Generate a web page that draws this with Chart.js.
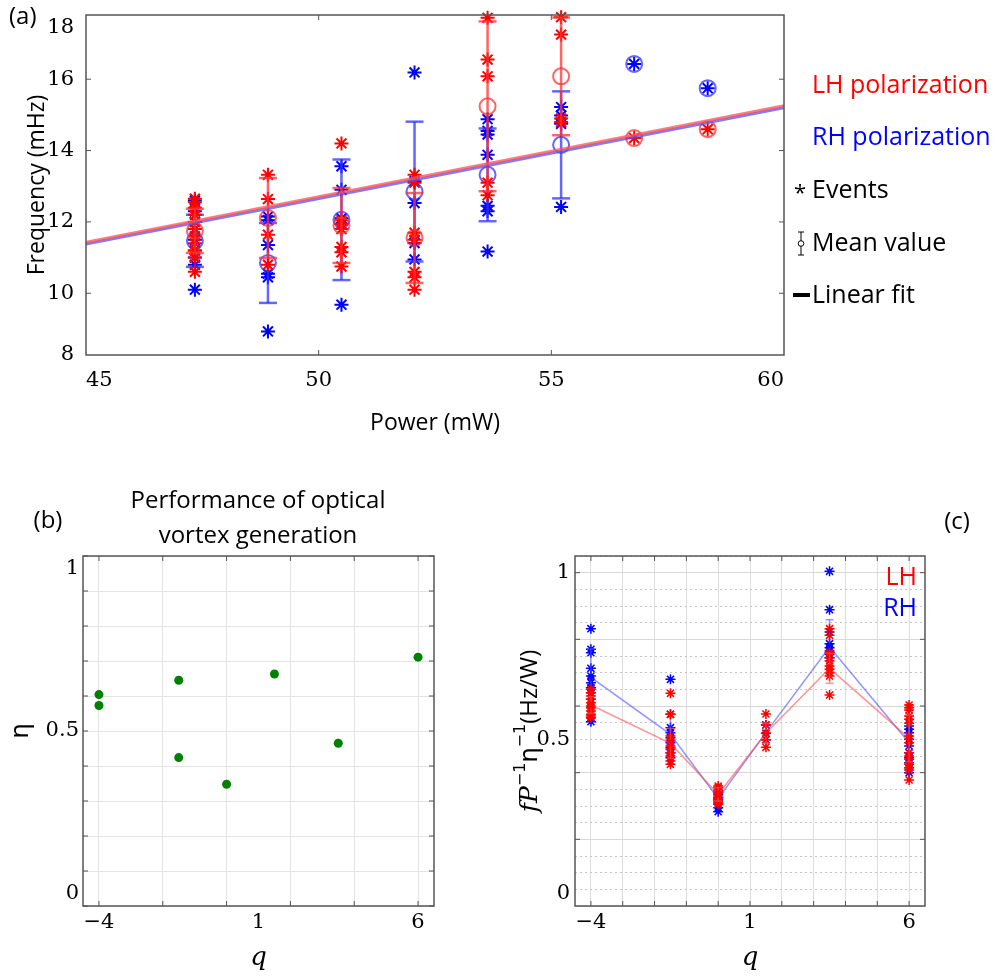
<!DOCTYPE html>
<html>
<head>
<meta charset="utf-8">
<script src="https://cdn.jsdelivr.net/npm/chart.js@4.4.0/dist/chart.umd.min.js"></script>
<style>
  body { margin: 0; background: #fff; }
  #wrap { position: relative; width: 1000px; height: 980px; }
  canvas { position: absolute; }
</style>
</head>
<body>
<div id="wrap">
  <canvas id="chartA" width="1000" height="440" style="left:0;top:0"></canvas>
  <canvas id="chartB" width="480" height="540" style="left:0;top:440px"></canvas>
  <canvas id="chartC" width="520" height="540" style="left:480px;top:440px"></canvas>
</div>
<script>
/***************************** (a) frequency vs power *****************************/
const aPower = [47.34, 48.91, 50.49, 52.06, 53.63, 55.21, 56.78, 58.36];
const aLhEvents = [
  [12.65, 12.55, 12.4, 12.2, 12.0, 11.8, 11.6, 11.4, 11.2, 11.0, 10.6],
  [13.32, 12.64, 11.64, 10.8],
  [14.2, 12.05, 11.95, 11.8, 11.3, 11.15, 10.75],
  [13.32, 13.1, 11.7, 11.5, 10.6, 10.45, 10.1],
  [17.72, 16.55, 16.08, 13.1, 12.75],
  [17.74, 17.25, 14.9, 14.8],
  [14.35],
  [14.6]
];
const aLhMean = [11.75, 12.11, 11.9, 11.55, 15.24, 16.08, 14.35, 14.6];
const aLhErr  = [0.62, 1.12, 1.05, 1.26, 2.38, 1.65, 0, 0];
const aRhEvents = [
  [12.6, 12.3, 12.0, 11.8, 11.5, 11.2, 11.0, 10.8, 10.1],
  [12.15, 12.05, 11.35, 10.55, 10.45, 8.93],
  [13.56, 12.9, 12.1, 9.68],
  [16.19, 13.14, 12.53, 11.41, 10.95],
  [14.88, 14.55, 14.45, 13.88, 12.45, 12.3, 11.17],
  [15.22, 14.98, 14.75, 12.42],
  [16.43],
  [15.75]
];
const aRhMean = [11.47, 10.85, 12.06, 12.85, 13.32, 14.16, 16.43, 15.75];
const aRhErr  = [0.73, 1.12, 1.69, 1.96, 1.3, 1.5, 0, 0];
const aFitPower = [45, 60];
const aLhFit = [11.43, 15.26];
const aRhFit = [11.38, 15.2];
const aXTicks = [45, 50, 55, 60];
const aYTicks = [8, 10, 12, 14, 16, 18];
const aYRange = [8.27, 17.8];

/***************************** (b) efficiency *****************************/
const bQ   = [-4, -4, -1.5, -1.5, 0, 1.5, 3.5, 6];
const bEta = [0.604, 0.573, 0.645, 0.424, 0.348, 0.663, 0.465, 0.711];
const bXTicks = [-4, -2, 0, 1, 2, 4, 6];
const bYTicks = [0, 0.1, 0.2, 0.3, 0.4, 0.5, 0.6, 0.7, 0.8, 0.9, 1];

/***************************** (c) normalised frequency *****************************/
const cQ = [-4, -1.5, 0, 1.5, 3.5, 6];
const cLhEvents = [
  [0.65, 0.64, 0.63, 0.62, 0.61, 0.6, 0.595, 0.585, 0.575, 0.57, 0.565],
  [0.638, 0.575, 0.51, 0.495, 0.48, 0.47, 0.46, 0.45, 0.435, 0.425],
  [0.36, 0.355, 0.348, 0.34, 0.33, 0.325, 0.318, 0.31, 0.305],
  [0.576, 0.543, 0.518, 0.499, 0.476],
  [0.832, 0.812, 0.76, 0.745, 0.735, 0.72, 0.71, 0.7, 0.69, 0.633],
  [0.603, 0.595, 0.588, 0.57, 0.56, 0.548, 0.51, 0.49, 0.46, 0.45, 0.44, 0.425, 0.415, 0.408, 0.378]
];
const cLhMean = [0.603, 0.488, 0.335, 0.518, 0.713, 0.503];
const cLhErr  = [0.025, 0.045, 0.02, 0.03, 0.045, 0.07];
const cRhEvents = [
  [0.832, 0.77, 0.76, 0.713, 0.69, 0.67, 0.655, 0.64, 0.62, 0.565, 0.553],
  [0.68, 0.575, 0.535, 0.52, 0.505, 0.49, 0.475, 0.46, 0.445],
  [0.345, 0.335, 0.325, 0.32, 0.315, 0.305, 0.295, 0.283],
  [0.543, 0.518, 0.499],
  [1.004, 0.889, 0.822, 0.787, 0.775, 0.765, 0.755, 0.745],
  [0.54, 0.53, 0.52, 0.5, 0.48, 0.46, 0.445, 0.43, 0.415, 0.4]
];
const cRhMean = [0.686, 0.515, 0.322, 0.52, 0.777, 0.49];
const cRhErr  = [0.085, 0.06, 0.02, 0.03, 0.082, 0.05];
const cXTicks = [-4, -3, -2, -1, 0, 1, 2, 3, 4, 5, 6];
const cYTicks = [0, 0.05, 0.1, 0.15, 0.2, 0.25, 0.3, 0.35, 0.4, 0.45, 0.5,
                 0.55, 0.6, 0.65, 0.7, 0.75, 0.8, 0.85, 0.9, 0.95, 1, 1.05];

/***************************** helpers *****************************/
const RED = 'rgb(255,0,0)', BLUE = 'rgb(0,0,255)';
const SERIF = '"DejaVu Serif"', SANS = '"Open Sans"';
const minus = v => String(v).replace('-', '\u2212');
const pts = (xs, ys) => xs.map((x, i) => ({x: x, y: ys[i]}));
const flat = (xs, lists) => xs.flatMap((x, i) => lists[i].map(y => ({x: x, y: y})));
const errSegs = (xs, m, e) => xs.flatMap((x, i) => e[i] ? [{x: x, y: m[i] - e[i]}, {x: x, y: m[i] + e[i]}, {x: x, y: null}] : []);
const errCaps = (xs, m, e) => xs.flatMap((x, i) => e[i] ? [{x: x, y: m[i] - e[i]}, {x: x, y: m[i] + e[i]}] : []);

// fixed axis box size, no label overhang padding -> plot area stays where we want it
const fixSize = (w, h) => s => {
  if (w !== null) s.width = w;
  if (h !== null) s.height = h;
  s.paddingTop = 0; s.paddingBottom = 0; s.paddingLeft = 0; s.paddingRight = 0;
};

// frame around the plot area with small inward ticks
const framePlugin = (xt, yt) => ({
  id: 'frame',
  afterDraw(chart) {
    const {ctx, chartArea: a, scales} = chart;
    ctx.save();
    ctx.strokeStyle = '#555';
    ctx.lineWidth = 1.5;
    ctx.strokeRect(a.left, a.top, a.right - a.left, a.bottom - a.top);
    ctx.lineWidth = 1;
    ctx.beginPath();
    xt.forEach(v => {
      const p = scales.x.getPixelForValue(v);
      ctx.moveTo(p, a.bottom); ctx.lineTo(p, a.bottom - 5);
      ctx.moveTo(p, a.top); ctx.lineTo(p, a.top + 5);
    });
    yt.forEach(v => {
      const p = scales.y.getPixelForValue(v);
      ctx.moveTo(a.left, p); ctx.lineTo(a.left + 5, p);
      ctx.moveTo(a.right, p); ctx.lineTo(a.right - 5, p);
    });
    ctx.stroke();
    ctx.restore();
  }
});

// free texts (labels, titles, legend); runs allow mixed fonts / superscripts
const textPlugin = items => ({
  id: 'texts',
  afterDraw(chart) {
    const ctx = chart.ctx;
    items.forEach(t => {
      const runs = t.runs || [{text: t.text, font: t.font}];
      ctx.save();
      ctx.translate(t.x, t.y);
      if (t.rotate) ctx.rotate(t.rotate);
      ctx.fillStyle = t.color || '#000';
      ctx.textBaseline = 'middle';
      const w = runs.map(r => { ctx.font = r.font; return ctx.measureText(r.text).width; });
      const total = w.reduce((s, v) => s + v, 0);
      let x = t.align === 'center' ? -total / 2 : t.align === 'right' ? -total : 0;
      runs.forEach((r, i) => { ctx.font = r.font; ctx.fillText(r.text, x, r.dy || 0); x += w[i]; });
      ctx.restore();
    });
  }
});

// legend symbols of panel (a)
const aLegendMarks = {
  id: 'aLegendMarks',
  afterDraw(chart) {
    const ctx = chart.ctx;
    ctx.save();
    ctx.strokeStyle = '#000';
    ctx.lineWidth = 1;
    ctx.beginPath();
    ctx.moveTo(801, 232); ctx.lineTo(801, 255);
    ctx.moveTo(798, 232); ctx.lineTo(804, 232);
    ctx.moveTo(798, 255); ctx.lineTo(804, 255);
    ctx.stroke();
    ctx.fillStyle = '#fff';
    ctx.beginPath(); ctx.arc(801, 243.5, 2.8, 0, 2 * Math.PI); ctx.fill(); ctx.stroke();
    ctx.fillStyle = '#000';
    ctx.fillRect(793, 293, 17, 4);
    ctx.restore();
  }
};

const baseOptions = (padding) => ({
  responsive: false,
  animation: false,
  events: [],
  layout: {padding: padding, autoPadding: false},
  plugins: {legend: {display: false}, tooltip: {enabled: false}}
});

const tickFont = {family: SERIF, size: 21};

/***************************** chart (a) *****************************/
const optsA = baseOptions({left: 0, top: 15, right: 216, bottom: 0});
optsA.scales = {
  x: {
    type: 'linear', min: 45, max: 60,
    afterBuildTicks: s => { s.ticks = aXTicks.map(v => ({value: v})); },
    afterFit: fixSize(null, 85),
    grid: {display: false}, border: {display: false},
    ticks: {align: 'inner', padding: 5, color: '#000', font: tickFont, autoSkip: false, maxRotation: 0},
    title: {display: true, text: 'Power (mW)', color: '#000', font: {family: SANS, size: 23}, padding: {top: 0, bottom: 3}}
  },
  y: {
    type: 'linear', min: aYRange[0], max: aYRange[1],
    afterBuildTicks: s => {
      s.ticks = aYTicks.map(v => ({value: Math.min(Math.max(v, aYRange[0]), aYRange[1])}));
    },
    afterFit: fixSize(86, null),
    grid: {display: false}, border: {display: false},
    ticks: {
      padding: 4, color: '#000', font: tickFont, autoSkip: false,
      callback: (v, i) => i === aYTicks.length - 1 ? ['', String(aYTicks[i])] : String(aYTicks[i])
    },
    title: {display: true, text: 'Frequency (mHz)', color: '#000', font: {family: SANS, size: 23}, padding: {top: 24, bottom: 0}}
  }
};

new Chart(document.getElementById('chartA'), {
  type: 'scatter',
  data: {
    datasets: [
      {data: pts(aFitPower, aLhFit), showLine: true, borderColor: 'rgba(255,80,80,0.75)', borderWidth: 3, pointRadius: 0},
      {data: pts(aFitPower, aRhFit), showLine: true, borderColor: 'rgba(80,80,255,0.75)', borderWidth: 3, pointRadius: 0},
      {data: pts(aPower, aLhMean), pointStyle: 'circle', pointRadius: 8, pointBorderWidth: 2,
       pointBorderColor: 'rgba(255,50,50,0.75)', pointBackgroundColor: 'rgba(0,0,0,0)'},
      {data: errSegs(aPower, aLhMean, aLhErr), showLine: true, spanGaps: false, pointRadius: 0,
       borderColor: 'rgba(255,50,50,0.75)', borderWidth: 2.5},
      {data: errCaps(aPower, aLhMean, aLhErr), pointStyle: 'line', pointRadius: 9, pointBorderWidth: 2.5,
       pointBorderColor: 'rgba(255,50,50,0.75)'},
      {data: flat(aPower, aLhEvents), pointStyle: 'star', pointRadius: 7, pointBorderWidth: 2, pointBorderColor: RED, clip: false},
      {data: pts(aPower, aRhMean), pointStyle: 'circle', pointRadius: 8, pointBorderWidth: 2,
       pointBorderColor: 'rgba(50,50,255,0.75)', pointBackgroundColor: 'rgba(0,0,0,0)'},
      {data: errSegs(aPower, aRhMean, aRhErr), showLine: true, spanGaps: false, pointRadius: 0,
       borderColor: 'rgba(50,50,255,0.75)', borderWidth: 2.5},
      {data: errCaps(aPower, aRhMean, aRhErr), pointStyle: 'line', pointRadius: 9, pointBorderWidth: 2.5,
       pointBorderColor: 'rgba(50,50,255,0.75)'},
      {data: flat(aPower, aRhEvents), pointStyle: 'star', pointRadius: 7, pointBorderWidth: 2, pointBorderColor: BLUE, clip: false}
    ]
  },
  options: optsA,
  plugins: [
    framePlugin([50, 55], [10, 12, 14, 16]),
    aLegendMarks,
    textPlugin([
      {text: '(a)', x: 9, y: 17, font: '24px ' + SANS},
      {text: 'LH polarization', x: 812, y: 86, font: '25px ' + SANS, color: RED},
      {text: 'RH polarization', x: 812, y: 138, font: '25px ' + SANS, color: BLUE},
      {text: '*', x: 794, y: 194, font: '22px ' + SANS},
      {text: 'Events', x: 812, y: 191, font: '25px ' + SANS},
      {text: 'Mean value', x: 812, y: 244, font: '25px ' + SANS},
      {text: 'Linear fit', x: 812, y: 296, font: '25px ' + SANS}
    ])
  ]
});

/***************************** chart (b) *****************************/
const optsB = baseOptions({left: 0, top: 116, right: 46, bottom: 0});
optsB.scales = {
  x: {
    type: 'linear', min: -4.5, max: 6.5,
    afterBuildTicks: s => { s.ticks = bXTicks.map(v => ({value: v})); },
    afterFit: fixSize(null, 74),
    grid: {drawTicks: false, color: c => c.tick && c.tick.value === 1 ? 'rgba(0,0,0,0)' : '#e4e4e4'},
    border: {display: false},
    ticks: {padding: 4, color: '#000', font: tickFont, autoSkip: false, maxRotation: 0,
            callback: v => [-4, 1, 6].includes(v) ? minus(v) : ''},
    title: {display: true, text: 'q', color: '#000', font: {family: SERIF, size: 26, style: 'italic'}, padding: {top: 0, bottom: 6}}
  },
  y: {
    type: 'linear', min: 0, max: 1,
    afterBuildTicks: s => { s.ticks = bYTicks.map(v => ({value: v})); },
    afterFit: fixSize(83, null),
    grid: {drawTicks: false, color: '#e4e4e4'},
    border: {display: false},
    ticks: {padding: 4, color: '#000', font: tickFont, autoSkip: false,
            callback: v => v === 0 ? ['0', ''] : v === 1 ? ['', '1'] : v === 0.5 ? '0.5' : ''},
    title: {display: true, text: 'η', color: '#000', font: {family: '"Noto Sans"', size: 25}, padding: {top: 6, bottom: 0}}
  }
};

new Chart(document.getElementById('chartB'), {
  type: 'scatter',
  data: {
    datasets: [
      {data: pts(bQ, bEta), pointStyle: 'circle', pointRadius: 4.5, pointBorderWidth: 0,
       pointBackgroundColor: 'rgb(0,128,0)', clip: false}
    ]
  },
  options: optsB,
  plugins: [
    framePlugin([-4, -2, 0, 2, 4, 6], bYTicks),
    textPlugin([
      {text: '(b)', x: 48, y: 81, font: '24px ' + SANS, align: 'center'},
      {text: 'Performance of optical', x: 258, y: 61, font: '24px ' + SANS, align: 'center'},
      {text: 'vortex generation', x: 258, y: 96, font: '24px ' + SANS, align: 'center'}
    ])
  ]
});

/***************************** chart (c) *****************************/
const cMajor = v => Math.round(v * 20) % 4 === 0;
const optsC = baseOptions({left: 0, top: 116, right: 75, bottom: 0});
optsC.scales = {
  x: {
    type: 'linear', min: -4.5, max: 6.5,
    afterBuildTicks: s => { s.ticks = cXTicks.map(v => ({value: v})); },
    afterFit: fixSize(null, 74),
    grid: {drawTicks: false, color: '#dedede'},
    border: {display: false},
    ticks: {padding: 4, color: '#000', font: tickFont, autoSkip: false, maxRotation: 0,
            callback: v => [-4, 1, 6].includes(v) ? minus(v) : ''},
    title: {display: true, text: 'q', color: '#000', font: {family: SERIF, size: 26, style: 'italic'}, padding: {top: 0, bottom: 6}}
  },
  y: {
    type: 'linear', min: 0, max: 1.05,
    afterBuildTicks: s => { s.ticks = cYTicks.map(v => ({value: v})); },
    afterFit: fixSize(95, null),
    grid: {drawTicks: false, color: c => c.tick && cMajor(c.tick.value) ? '#d8d8d8' : '#c4c4c4'},
    border: {display: false, dash: c => c.tick && !cMajor(c.tick.value) ? [2, 3] : []},
    ticks: {padding: 5, color: '#000', font: tickFont, autoSkip: false,
            callback: v => v === 0 ? ['0', ''] : v === 1 ? '1' : v === 0.5 ? '0.5' : ''},
    title: {display: false}
  }
};

new Chart(document.getElementById('chartC'), {
  type: 'scatter',
  data: {
    datasets: [
      {data: pts(cQ, cLhMean), pointStyle: 'circle', pointRadius: 3.5, pointBorderWidth: 0,
       pointBackgroundColor: 'rgba(255,0,0,0.8)'},
      {data: errSegs(cQ, cLhMean, cLhErr), showLine: true, spanGaps: false, pointRadius: 0,
       borderColor: 'rgba(255,80,80,0.6)', borderWidth: 1.5},
      {data: errCaps(cQ, cLhMean, cLhErr), pointStyle: 'line', pointRadius: 4, pointBorderWidth: 1.5,
       pointBorderColor: 'rgba(255,80,80,0.6)'},
      {data: pts(cQ, cLhMean), showLine: true, pointRadius: 0, borderColor: 'rgba(255,60,60,0.55)', borderWidth: 1.5},
      {data: flat(cQ, cLhEvents), pointStyle: 'star', pointRadius: 5, pointBorderWidth: 1.5, pointBorderColor: RED, clip: false},
      {data: pts(cQ, cRhMean), pointStyle: 'circle', pointRadius: 3.5, pointBorderWidth: 0,
       pointBackgroundColor: 'rgba(0,0,255,0.8)'},
      {data: errSegs(cQ, cRhMean, cRhErr), showLine: true, spanGaps: false, pointRadius: 0,
       borderColor: 'rgba(80,80,255,0.6)', borderWidth: 1.5},
      {data: errCaps(cQ, cRhMean, cRhErr), pointStyle: 'line', pointRadius: 4, pointBorderWidth: 1.5,
       pointBorderColor: 'rgba(80,80,255,0.6)'},
      {data: pts(cQ, cRhMean), showLine: true, pointRadius: 0, borderColor: 'rgba(60,60,255,0.55)', borderWidth: 1.5},
      {data: flat(cQ, cRhEvents), pointStyle: 'star', pointRadius: 5, pointBorderWidth: 1.5, pointBorderColor: BLUE, clip: false}
    ]
  },
  options: optsC,
  plugins: [
    framePlugin(cXTicks, [0.2, 0.4, 0.6, 0.8, 1]),
    textPlugin([
      {text: '(c)', x: 477, y: 82, font: '24px ' + SANS, align: 'center'},
      {text: 'LH', x: 437, y: 138, font: '25px ' + SANS, color: RED, align: 'right'},
      {text: 'RH', x: 437, y: 169, font: '25px ' + SANS, color: BLUE, align: 'right'},
      {x: 50, y: 291, rotate: -Math.PI / 2, align: 'center', runs: [
        {text: 'f', font: 'italic 25px ' + SERIF},
        {text: 'P', font: 'italic 25px ' + SERIF},
        {text: '\u22121', font: '16px "DejaVu Sans"', dy: -9},
        {text: 'η', font: '25px "Noto Sans"'},
        {text: '\u22121', font: '16px "DejaVu Sans"', dy: -9},
        {text: '(Hz/W)', font: '24px ' + SANS}
      ]}
    ])
  ]
});
</script>
</body>
</html>
